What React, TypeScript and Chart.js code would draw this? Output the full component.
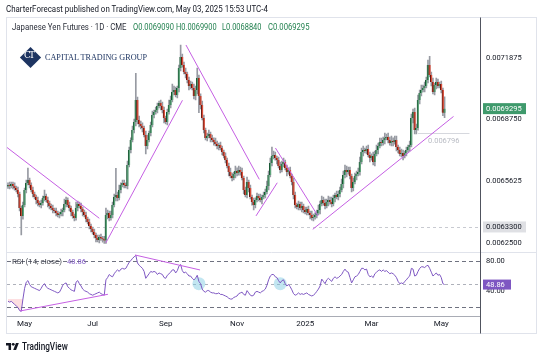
import React, { useEffect, useLayoutEffect, useRef } from 'react';
import { Chart, registerables } from 'chart.js';

Chart.register(...registerables);

// ---------- DATA (prices in units of 0.000001 USD) ----------
const PRICE_UNIT = 1e-6;
const OPEN_FIRST = 6535; // open of the first bar; later opens = previous close

const CLOSES = [
  6543, 6538, 6548, 6538, 6527, 6517, 6497, 6426, 6385, 6441,
  6517, 6553, 6568, 6543, 6517, 6497, 6482, 6467, 6451, 6441,
  6451, 6477, 6487, 6467, 6451, 6436, 6426, 6416, 6411, 6401,
  6391, 6396, 6406, 6416, 6446, 6467, 6441, 6426, 6406, 6385,
  6375, 6426, 6446, 6436, 6421, 6406, 6391, 6370, 6355, 6335,
  6320, 6304, 6289, 6274, 6264, 6279, 6272, 6268, 6262, 6391,
  6401, 6375, 6391, 6441, 6482, 6492, 6477, 6517, 6543, 6553,
  6543, 6538, 6644, 6720, 6771, 6821, 6862, 6973, 6872, 6852,
  6842, 6831, 6796, 6740, 6771, 6806, 6847, 6897, 6912, 6923,
  6943, 6958, 6943, 6923, 6882, 6862, 6912, 6948, 6973, 7014,
  7024, 6999, 7034, 7135, 7191, 7150, 7115, 7105, 7075, 7044,
  7054, 7034, 6994, 7024, 7085, 6994, 6948, 6882, 6821, 6781,
  6791, 6801, 6781, 6771, 6760, 6750, 6740, 6745, 6730, 6710,
  6690, 6669, 6639, 6608, 6588, 6578, 6598, 6614, 6603, 6619,
  6608, 6578, 6517, 6492, 6558, 6527, 6482, 6456, 6441, 6467,
  6487, 6477, 6467, 6482, 6492, 6507, 6538, 6593, 6654, 6690,
  6695, 6679, 6669, 6639, 6619, 6649, 6659, 6629, 6608, 6619,
  6588, 6558, 6492, 6441, 6431, 6446, 6426, 6436, 6416, 6406,
  6421, 6401, 6391, 6375, 6380, 6391, 6401, 6416, 6446, 6467,
  6451, 6436, 6456, 6467, 6456, 6446, 6477, 6492, 6482, 6497,
  6517, 6548, 6593, 6619, 6608, 6619, 6588, 6527, 6558, 6588,
  6598, 6608, 6659, 6710, 6720, 6715, 6725, 6695, 6679, 6690,
  6659, 6700, 6720, 6740, 6760, 6755, 6771, 6781, 6786, 6771,
  6755, 6766, 6760, 6771, 6735, 6720, 6700, 6705, 6690, 6705,
  6720, 6735, 6745, 6882, 6912, 6821, 6831, 6973, 7009, 7024,
  7034, 7044, 7075, 7150, 7100, 7064, 7014, 7049, 7064, 7044,
  7054, 7024, 6909, 6929.5,
];

// wick lengths per bar, one base-36 digit each, in steps of WICK_STEP units
const WICK_STEP = 5;
const HIGH_WICK =
  '2322323223 23c2232232 3262322323 2232532322 2632322323 2232323237 32433r3523 3243243r34 3324523423 3234323548 ' +
  '4323c33423 3244a32432 3423243232 2323432534 3423523242 3242335459 4323434232 3243232423 2324323534 3434353243 ' +
  '3545433243 3454423432 4353443534 3534423432 3244344535 3435934243 232c';
const LOW_WICK =
  '23232233j3 2323232432 3232432323 2324232342 3232342323 3234232333 4323243232 3232323443 3428323232 3243523232 ' +
  '3234322434 32344h4232 3242323423 2324232432 3242342353 2324232423 3242323242 2343232432 3242323242 2324232423 ' +
  '3243523432 4232423242 3424232423 2342432342 3242544243 2423242342 2335';

const RSI = [
  27, 26, 27, 25, 23, 21, 19, 15, 14, 30,
  44, 52, 54, 49, 46, 45, 44, 43, 42, 41,
  44, 48, 50, 46, 44, 43, 42, 41, 40, 39,
  38, 39, 43, 48, 50, 51, 46, 44, 42, 41,
  40, 52, 54, 50, 47, 43, 41, 40, 39, 37,
  36, 35, 36, 37, 38, 39, 37, 36, 35, 55,
  58, 62, 60, 59, 63, 66, 68, 66, 69, 70,
  69, 70, 74, 78, 80, 83, 85, 87, 77, 74,
  72, 70, 66, 57, 60, 63, 66, 65, 66, 65,
  62, 64, 63, 62, 58, 57, 61, 63, 65, 68,
  68, 64, 67, 73, 75, 67, 64, 65, 63, 60,
  60, 57, 55, 57, 61, 53, 50, 43, 40, 39,
  41, 41, 39, 38, 38, 37, 37, 38, 36, 36,
  35, 34, 33, 31, 30, 30, 32, 33, 34, 37,
  38, 39, 36, 35, 41, 38, 35, 34, 35, 39,
  40, 39, 38, 40, 41, 43, 48, 55, 60, 62,
  62, 59, 58, 54, 51, 54, 55, 50, 47, 49,
  46, 42, 37, 35, 36, 38, 36, 37, 36, 37,
  38, 36, 35, 34, 35, 37, 40, 43, 47, 56,
  53, 50, 55, 57, 55, 53, 57, 59, 57, 58,
  60, 62, 66, 69, 66, 65, 58, 51, 55, 59,
  60, 62, 66, 70, 70, 68, 69, 62, 59, 60,
  58, 63, 65, 67, 68, 66, 68, 66, 67, 65,
  63, 64, 63, 61, 58, 53, 50, 51, 50, 53,
  55, 58, 60, 70, 69, 60, 61, 66, 70, 72,
  72, 71, 73, 74, 70, 65, 60, 62, 64, 61,
  62, 58, 50, 48.86,
];

const TIME_TICK_INDEX = [10, 51, 95, 138, 179, 219, 261];
const TIME_TICK_LABELS = ['May', 'Jul', 'Sep', 'Nov', '2025', 'Mar', 'May'];
const PRICE_TICKS = [6250, 6562.5, 6875, 7187.5];
const RSI_TICKS = [40, 80];
const RSI_BANDS = [80, 50, 20];
const RSI_OVERSOLD_FILL = 30;

const LAST_OPEN = 6909;
const LAST_HIGH = 6990;
const LAST_LOW = 6884;
const LAST_CLOSE = 6929.5;
const LAST_RSI = 48.86;
const MARKED_LEVEL = 6330;
const RAY_LEVEL = 6805;
const RAY_FROM = 247;
const RAY_TO = 278;
const RAY_TEXT = '0.006796';

// trend lines: [barFrom, priceFrom, barTo, priceTo]
const TRENDLINES = [
  [-0.8, 6734, 55.0, 6374],
  [59.0, 6250, 105.1, 6972],
  [107.2, 7252, 151.4, 6571],
  [149.4, 6386, 162.2, 6554],
  [161.1, 6730, 186.7, 6386],
  [183.6, 6318, 268.4, 6890],
];
const RSI_TRENDLINES = [
  [7.2, 14.4, 60.2, 36.2],
  [76.5, 87.4, 115.7, 67.9],
];
const RSI_CIRCLES = [115, 164];

// ---------- STYLE ----------
const FONT = 'Roboto, "Liberation Sans", sans-serif';
const UP_FILL = '#5ea57b';
const UP_BORDER = '#175532';
const DOWN_FILL = '#dc4f3b';
const DOWN_BORDER = '#62160f';
const WICK = '#979aa2';
const TREND = '#c55fe3';
const RSI_COLOR = '#7e57c2';

const fmtPrice = (v: number) => (v * PRICE_UNIT).toFixed(7);
const decodeWicks = (s: string) =>
  s.replace(/\s/g, '').split('').map((ch) => parseInt(ch, 36) * WICK_STEP);

function FitText(props: {
  text: string; x: number; cy: number; w: number; size: number; color: string;
  family?: string; weight?: number; spacing?: number;
}) {
  const { text, x, cy, w, size, color, family = FONT, weight = 400, spacing = 0 } = props;
  const r = useRef<HTMLSpanElement>(null);
  useLayoutEffect(() => {
    const el = r.current;
    if (!el) return;
    const natural = el.offsetWidth;
    if (natural > 0) el.style.transform = `translateY(-50%) scaleX(${w / natural})`;
  }, [text, w, size]);
  return (
    <span
      ref={r}
      style={{
        position: 'absolute', left: x, top: cy, whiteSpace: 'nowrap', fontSize: size,
        lineHeight: 1, color, fontFamily: family, fontWeight: weight, letterSpacing: spacing,
        transformOrigin: '0 50%', transform: 'translateY(-50%)',
      }}
    >
      {text}
    </span>
  );
}

export default function App() {
  const canvasRef = useRef<HTMLCanvasElement>(null);

  useEffect(() => {
    const canvas = canvasRef.current;
    if (!canvas) return;
    const hw = decodeWicks(HIGH_WICK);
    const lw = decodeWicks(LOW_WICK);
    const opens = CLOSES.map((c, i) => (i === 0 ? OPEN_FIRST : CLOSES[i - 1]));
    const isUp = CLOSES.map((c, i) => c >= opens[i]);
    const highs = CLOSES.map((c, i) => Math.max(c, opens[i]) + (hw[i] || 0));
    const lows = CLOSES.map((c, i) => Math.min(c, opens[i]) - (lw[i] || 0));

    const overlay = {
      id: 'overlay',
      beforeDatasetsDraw(chart: any) {
        const { ctx, chartArea: ca, scales } = chart;
        const y = scales.y, yR = scales.yR, x = scales.x;
        ctx.save();
        ctx.lineWidth = 1;
        ctx.setLineDash([3, 3]);
        ctx.strokeStyle = '#c8cad1';
        const ly = Math.round(y.getPixelForValue(MARKED_LEVEL)) + 0.5;
        ctx.beginPath(); ctx.moveTo(ca.left, ly); ctx.lineTo(ca.right, ly); ctx.stroke();
        RSI_BANDS.forEach((b, k) => {
          ctx.setLineDash(k === 1 ? [3, 3] : [4, 3]);
          ctx.strokeStyle = k === 1 ? '#aeb1ba' : '#6f7280';
          const by = Math.round(yR.getPixelForValue(b)) + 0.5;
          ctx.beginPath(); ctx.moveTo(ca.left, by); ctx.lineTo(ca.right, by); ctx.stroke();
        });
        ctx.setLineDash([]);
        ctx.fillStyle = 'rgba(120,200,225,0.45)';
        RSI_CIRCLES.forEach((i) => {
          ctx.beginPath();
          ctx.arc(x.getPixelForValue(i), yR.getPixelForValue(50), 6.5, 0, Math.PI * 2);
          ctx.fill();
        });
        const ry = Math.round(y.getPixelForValue(RAY_LEVEL)) + 0.5;
        ctx.strokeStyle = '#d6d8de';
        ctx.beginPath(); ctx.moveTo(x.getPixelForValue(RAY_FROM), ry); ctx.lineTo(x.getPixelForValue(RAY_TO), ry); ctx.stroke();
        ctx.fillStyle = '#b8bbc3';
        ctx.font = `7.5px ${FONT}`;
        ctx.textBaseline = 'middle';
        ctx.fillText(RAY_TEXT, x.getPixelForValue(RAY_FROM + 6), ry + 8);
        ctx.restore();
      },
      afterDraw(chart: any) {
        const { ctx, chartArea: ca, scales } = chart;
        const y = scales.y, yR = scales.yR;
        const W = chart.width;
        ctx.save();
        ctx.lineWidth = 1;
        ctx.strokeStyle = '#e0e3eb';
        ctx.strokeRect(6.5, 17.5, W - 10, 316);
        ctx.beginPath(); ctx.moveTo(ca.left, Math.round(y.bottom) + 0.5); ctx.lineTo(W - 4, Math.round(y.bottom) + 0.5); ctx.stroke();
        ctx.strokeStyle = '#a9acb5';
        ctx.beginPath(); ctx.moveTo(ca.left, ca.bottom + 0.5); ctx.lineTo(ca.right, ca.bottom + 0.5); ctx.stroke();
        ctx.strokeStyle = '#50535e';
        ctx.beginPath(); ctx.moveTo(ca.right - 0.5, 17.5); ctx.lineTo(ca.right - 0.5, 333.5); ctx.stroke();

        ctx.font = `7.5px ${FONT}`;
        ctx.textBaseline = 'middle';
        const lx = ca.right + 2;
        const my = y.getPixelForValue(MARKED_LEVEL);
        ctx.fillStyle = '#dfe0e4';
        ctx.fillRect(lx, my - 5.5, 43, 11);
        ctx.fillStyle = '#131722';
        ctx.fillText(fmtPrice(MARKED_LEVEL), lx + 3, my + 0.5);
        const cy = y.getPixelForValue(LAST_CLOSE);
        ctx.fillStyle = '#3f9a6c';
        ctx.fillRect(lx, cy - 5.5, 43, 11);
        ctx.fillStyle = '#ffffff';
        ctx.fillText(fmtPrice(LAST_CLOSE), lx + 3, cy + 0.5);
        const ry = yR.getPixelForValue(LAST_RSI);
        ctx.fillStyle = RSI_COLOR;
        ctx.fillRect(lx, ry - 5, 28, 10);
        ctx.fillStyle = '#ffffff';
        ctx.fillText(LAST_RSI.toFixed(2), lx + 3, ry + 0.5);
        ctx.restore();
      },
    };

    const chart = new Chart(canvas, {
      type: 'bar',
      data: {
        datasets: [
          {
            type: 'bar',
            data: CLOSES.map((c, i) => ({ x: i, y: [lows[i], highs[i]] })) as any,
            backgroundColor: WICK,
            barThickness: 1,
            grouped: false,
            borderWidth: 0,
            yAxisID: 'y',
            order: 4,
          } as any,
          {
            type: 'bar',
            data: CLOSES.map((c, i) => ({ x: i, y: [opens[i], c] })) as any,
            backgroundColor: isUp.map((u) => (u ? UP_FILL : DOWN_FILL)),
            borderColor: isUp.map((u) => (u ? UP_BORDER : DOWN_BORDER)),
            borderWidth: { left: 1, right: 0, top: 0, bottom: 0 },
            borderSkipped: false,
            barThickness: 2,
            minBarLength: 1,
            grouped: false,
            yAxisID: 'y',
            order: 3,
          } as any,
          ...TRENDLINES.map((t) => ({
            type: 'line',
            data: [{ x: t[0], y: t[1] }, { x: t[2], y: t[3] }],
            borderColor: TREND,
            borderWidth: 1,
            pointRadius: 0,
            yAxisID: 'y',
            order: 1,
          })),
          {
            type: 'line',
            data: RSI.map((v, i) => ({ x: i, y: v })),
            borderColor: RSI_COLOR,
            borderWidth: 1,
            pointRadius: 0,
            tension: 0,
            yAxisID: 'yR',
            fill: { target: { value: RSI_OVERSOLD_FILL }, above: 'rgba(0,0,0,0)', below: 'rgba(242,54,69,0.16)' },
            order: 2,
          } as any,
          ...RSI_TRENDLINES.map((t) => ({
            type: 'line',
            data: [{ x: t[0], y: t[1] }, { x: t[2], y: t[3] }],
            borderColor: TREND,
            borderWidth: 1,
            pointRadius: 0,
            yAxisID: 'yR',
            order: 1,
          })),
        ] as any,
      },
      options: {
        animation: false,
        responsive: false,
        devicePixelRatio: 1,
        events: [],
        layout: { padding: { left: 7, top: 17.5, right: 4, bottom: 24 } },
        plugins: { legend: { display: false }, tooltip: { enabled: false } },
        scales: {
          x: {
            type: 'linear',
            min: -0.6,
            max: 284.94,
            offset: false,
            grid: { display: false, drawTicks: false, offset: false },
            border: { display: false },
            afterBuildTicks: (s: any) => { s.ticks = TIME_TICK_INDEX.map((v) => ({ value: v })); },
            afterFit: (s: any) => { s.height = 17; },
            ticks: {
              autoSkip: false,
              maxRotation: 0,
              padding: 3,
              color: '#131722',
              font: { family: FONT, size: 8 },
              callback: (v: any) => {
                const k = TIME_TICK_INDEX.indexOf(Number(v));
                return k >= 0 ? TIME_TICK_LABELS[k] : '';
              },
            },
          },
          y: {
            type: 'linear',
            position: 'right',
            stack: 'panes',
            stackWeight: 234.5,
            min: 6203.1,
            max: 7391.3,
            grid: { display: false, drawTicks: false },
            border: { display: false },
            afterBuildTicks: (s: any) => { s.ticks = PRICE_TICKS.map((v) => ({ value: v })); },
            afterFit: (s: any) => { s.width = 55; },
            ticks: {
              autoSkip: false,
              padding: 5,
              color: '#131722',
              font: { family: FONT, size: 7.5 },
              callback: (v: any) => fmtPrice(Number(v)),
            },
          },
          yR: {
            type: 'linear',
            position: 'right',
            stack: 'panes',
            stackWeight: 64,
            min: 7.9,
            max: 91.3,
            grid: { display: false, drawTicks: false },
            border: { display: false },
            afterBuildTicks: (s: any) => { s.ticks = RSI_TICKS.map((v) => ({ value: v })); },
            afterFit: (s: any) => { s.width = 55; },
            ticks: {
              autoSkip: false,
              padding: 5,
              color: '#131722',
              font: { family: FONT, size: 7.5 },
              callback: (v: any) => Number(v).toFixed(2),
            },
          },
        } as any,
      },
      plugins: [overlay],
    });
    return () => chart.destroy();
  }, []);

  const green = '#22804f';
  return (
    <div style={{ position: 'absolute', left: 0, top: 0, width: 540, height: 357, overflow: 'hidden', background: '#ffffff', fontFamily: FONT }}>
      <canvas ref={canvasRef} width={540} height={357} style={{ position: 'absolute', left: 0, top: 0, width: 540, height: 357 }} />
      <FitText text="CharterForecast published on TradingView.com, May 03, 2025 15:53 UTC-4" x={6} cy={8.5} w={262} size={9.5} color="#131722" />
      <FitText text="Japanese Yen Futures · 1D · CME" x={11.7} cy={27} w={115} size={8.5} color="#2a2e39" />
      <FitText text={`O${fmtPrice(LAST_OPEN)}`} x={132.7} cy={27} w={40.6} size={8.5} color={green} />
      <FitText text={`H${fmtPrice(LAST_HIGH)}`} x={175.7} cy={27} w={41} size={8.5} color={green} />
      <FitText text={`L${fmtPrice(LAST_LOW)}`} x={222.3} cy={27} w={39.4} size={8.5} color={green} />
      <FitText text={`C${fmtPrice(LAST_CLOSE)}`} x={267.5} cy={27} w={41.5} size={8.5} color={green} />
      <div style={{ position: 'absolute', left: 22.5, top: 49.5, width: 15, height: 15, background: '#1d3461', transform: 'rotate(45deg)' }} />
      <span style={{ position: 'absolute', left: 24, top: 50.5, fontFamily: '"DejaVu Serif", serif', fontSize: 9, color: '#ffffff', letterSpacing: -2, lineHeight: 1 }}>CT</span>
      <FitText text="CAPITAL TRADING GROUP" x={45} cy={56.5} w={102} size={8.5} color="#1d3461" family='"Liberation Serif", "DejaVu Serif", serif' />
      <FitText text="RSI (14, close)" x={11.7} cy={262} w={50} size={8} color="#3f424c" />
      <FitText text={LAST_RSI.toFixed(2)} x={66.7} cy={262} w={19} size={8} color={RSI_COLOR} />
      <svg style={{ position: 'absolute', left: 6, top: 342 }} width="13" height="9" viewBox="0 0 36 24">
        <path d="M14 22H7V9H0V2h14v20zM28 22h-8l7.5-20h8L28 22z" fill="#131722" />
        <circle cx="20" cy="6" r="4" fill="#131722" />
      </svg>
      <FitText text="TradingView" x={22} cy={346.5} w={46} size={10} color="#131722" weight={500} />
    </div>
  );
}
